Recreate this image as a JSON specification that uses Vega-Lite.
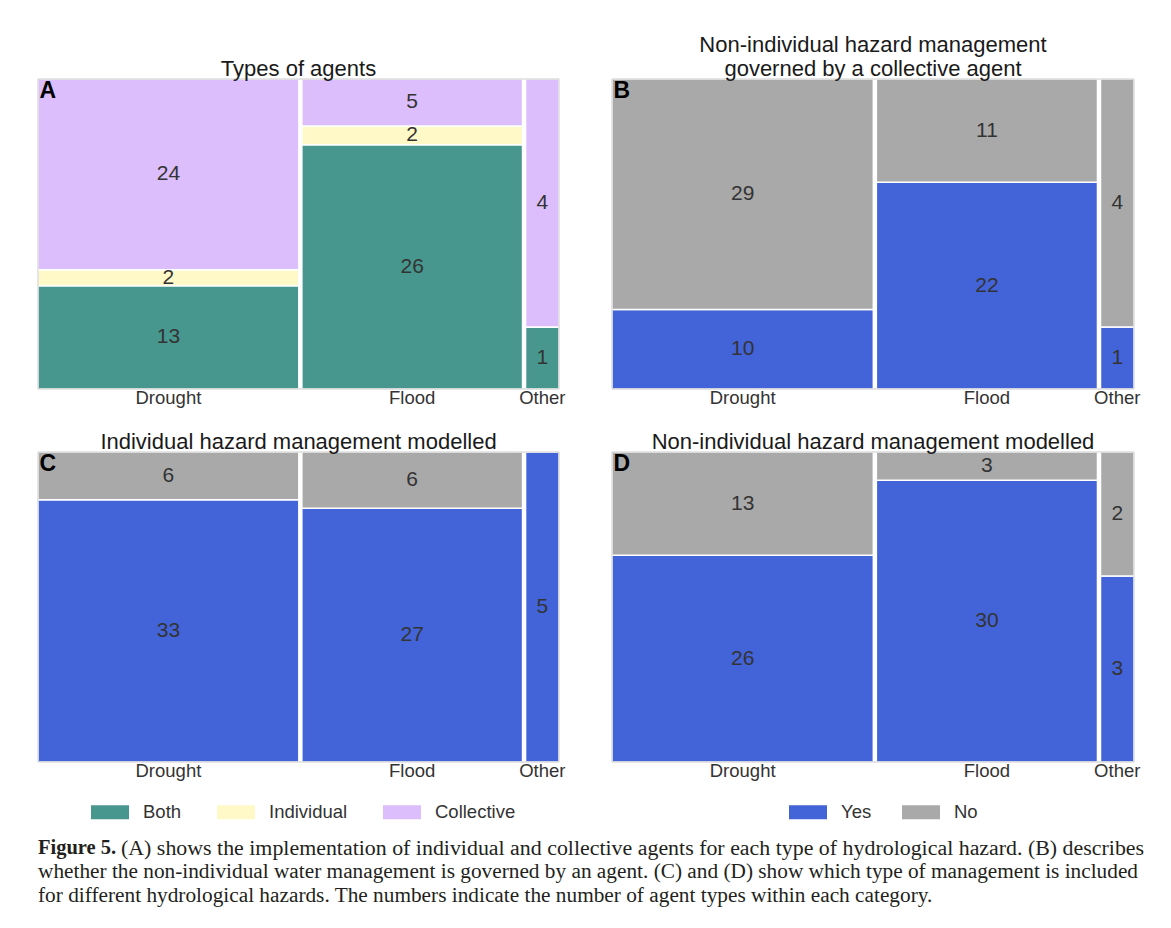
{
  "$schema": "https://vega.github.io/schema/vega-lite/v6.json",
  "background": "white",
  "padding": {"left": 37, "top": 34, "right": 8, "bottom": 8},
  "data": {"values": [
    {"panel": "A", "hazard": "Drought", "cat": "Both", "n": 13},
    {"panel": "A", "hazard": "Drought", "cat": "Individual", "n": 2},
    {"panel": "A", "hazard": "Drought", "cat": "Collective", "n": 24},
    {"panel": "A", "hazard": "Flood", "cat": "Both", "n": 26},
    {"panel": "A", "hazard": "Flood", "cat": "Individual", "n": 2},
    {"panel": "A", "hazard": "Flood", "cat": "Collective", "n": 5},
    {"panel": "A", "hazard": "Other", "cat": "Both", "n": 1},
    {"panel": "A", "hazard": "Other", "cat": "Individual", "n": 0},
    {"panel": "A", "hazard": "Other", "cat": "Collective", "n": 4},
    {"panel": "B", "hazard": "Drought", "cat": "Yes", "n": 10},
    {"panel": "B", "hazard": "Drought", "cat": "No", "n": 29},
    {"panel": "B", "hazard": "Flood", "cat": "Yes", "n": 22},
    {"panel": "B", "hazard": "Flood", "cat": "No", "n": 11},
    {"panel": "B", "hazard": "Other", "cat": "Yes", "n": 1},
    {"panel": "B", "hazard": "Other", "cat": "No", "n": 4},
    {"panel": "C", "hazard": "Drought", "cat": "Yes", "n": 33},
    {"panel": "C", "hazard": "Drought", "cat": "No", "n": 6},
    {"panel": "C", "hazard": "Flood", "cat": "Yes", "n": 27},
    {"panel": "C", "hazard": "Flood", "cat": "No", "n": 6},
    {"panel": "C", "hazard": "Other", "cat": "Yes", "n": 5},
    {"panel": "C", "hazard": "Other", "cat": "No", "n": 0},
    {"panel": "D", "hazard": "Drought", "cat": "Yes", "n": 26},
    {"panel": "D", "hazard": "Drought", "cat": "No", "n": 13},
    {"panel": "D", "hazard": "Flood", "cat": "Yes", "n": 30},
    {"panel": "D", "hazard": "Flood", "cat": "No", "n": 3},
    {"panel": "D", "hazard": "Other", "cat": "Yes", "n": 3},
    {"panel": "D", "hazard": "Other", "cat": "No", "n": 2}
  ]},
  "resolve": {"scale": {"color": "shared"}, "legend": {"color": "independent"}},
  "spacing": 23,
  "vconcat": [
    {
      "hconcat": [
        {
          "title": {"text": "Types of agents"},
          "width": 521, "height": 310,
          "transform": [
            {"filter": "datum.panel == 'A'"},
            {"calculate": "indexof(['Both','Individual','Collective','Yes','No'], datum.cat)", "as": "ord"},
            {"joinaggregate": [{"op": "sum", "field": "n", "as": "hz"}], "groupby": ["hazard"]},
            {"window": [{"op": "sum", "field": "n", "as": "cum"}, {"op": "dense_rank", "as": "hzi"}], "sort": [{"field": "hazard", "order": "ascending"}], "frame": [null, 0], "ignorePeers": false},
            {"calculate": "datum.cum - datum.hz + (datum.hzi - 1) * 0.45", "as": "x0"},
            {"calculate": "datum.cum + (datum.hzi - 1) * 0.45", "as": "x1"},
            {"stack": "n", "groupby": ["hazard"], "sort": [{"field": "ord", "order": "ascending"}], "offset": "normalize", "as": ["y0", "y1"]},
            {"calculate": "(datum.x0 + datum.x1) / 2", "as": "xm"},
            {"calculate": "(datum.y0 + datum.y1) / 2", "as": "ym"}
          ],
          "layer": [
            {"mark": {"type": "rect", "stroke": "white", "strokeWidth": 1.5},
             "encoding": {
               "x": {"field": "x0", "type": "quantitative", "scale": {"domain": [0, 77.9], "nice": false, "zero": false}, "axis": null},
               "x2": {"field": "x1"},
               "y": {"field": "y0", "type": "quantitative", "scale": {"domain": [0, 1], "nice": false}, "axis": null},
               "y2": {"field": "y1"},
               "color": {"field": "cat", "type": "nominal", "scale": {"domain": ["Both", "Individual", "Collective", "Yes", "No"], "range": ["#48978F", "#FFF9C8", "#DBBEFB", "#4363D8", "#A9A9A9"]}, "legend": null}
             }},
            {"transform": [{"filter": "datum.n > 0"}],
             "mark": {"type": "text", "fontSize": 21, "font": "Liberation Sans", "color": "#333333"},
             "encoding": {"x": {"field": "xm", "type": "quantitative"}, "y": {"field": "ym", "type": "quantitative"}, "text": {"field": "n", "type": "quantitative"}}},
            {"transform": [{"filter": "datum.ord == 0 || datum.ord == 3"}],
             "mark": {"type": "text", "fontSize": 18.5, "font": "Liberation Sans", "color": "#333333", "baseline": "top", "dy": 0},
             "encoding": {"x": {"field": "xm", "type": "quantitative"}, "y": {"datum": 0}, "text": {"field": "hazard"}}},
            {"transform": [{"filter": "datum.hzi == 1 && (datum.ord == 0 || datum.ord == 3)"}],
             "mark": {"type": "rect", "fillOpacity": 0, "fill": "white", "stroke": "#cccccc", "strokeWidth": 1},
             "encoding": {"x": {"datum": 0}, "x2": {"datum": 77.9}, "y": {"datum": 0}, "y2": {"datum": 1}}},
            {"transform": [{"filter": "datum.hzi == 1 && (datum.ord == 0 || datum.ord == 3)"}],
             "mark": {"type": "text", "text": "A", "fontWeight": "bold", "fontSize": 23, "font": "Liberation Sans", "color": "black", "align": "left", "baseline": "top", "dx": 1.5, "dy": 1},
             "encoding": {"x": {"datum": 0}, "y": {"datum": 1}}}
          ]
        },
        {
          "title": {"text": ["Non-individual hazard management", " governed by a collective agent"]},
          "width": 522, "height": 310,
          "transform": [
            {"filter": "datum.panel == 'B'"},
            {"calculate": "indexof(['Both','Individual','Collective','Yes','No'], datum.cat)", "as": "ord"},
            {"joinaggregate": [{"op": "sum", "field": "n", "as": "hz"}], "groupby": ["hazard"]},
            {"window": [{"op": "sum", "field": "n", "as": "cum"}, {"op": "dense_rank", "as": "hzi"}], "sort": [{"field": "hazard", "order": "ascending"}], "frame": [null, 0], "ignorePeers": false},
            {"calculate": "datum.cum - datum.hz + (datum.hzi - 1) * 0.45", "as": "x0"},
            {"calculate": "datum.cum + (datum.hzi - 1) * 0.45", "as": "x1"},
            {"stack": "n", "groupby": ["hazard"], "sort": [{"field": "ord", "order": "ascending"}], "offset": "normalize", "as": ["y0", "y1"]},
            {"calculate": "(datum.x0 + datum.x1) / 2", "as": "xm"},
            {"calculate": "(datum.y0 + datum.y1) / 2", "as": "ym"}
          ],
          "layer": [
            {"mark": {"type": "rect", "stroke": "white", "strokeWidth": 1.5},
             "encoding": {
               "x": {"field": "x0", "type": "quantitative", "scale": {"domain": [0, 77.9], "nice": false, "zero": false}, "axis": null},
               "x2": {"field": "x1"},
               "y": {"field": "y0", "type": "quantitative", "scale": {"domain": [0, 1], "nice": false}, "axis": null},
               "y2": {"field": "y1"},
               "color": {"field": "cat", "type": "nominal", "legend": null}
             }},
            {"transform": [{"filter": "datum.n > 0"}],
             "mark": {"type": "text", "fontSize": 21, "font": "Liberation Sans", "color": "#333333"},
             "encoding": {"x": {"field": "xm", "type": "quantitative"}, "y": {"field": "ym", "type": "quantitative"}, "text": {"field": "n", "type": "quantitative"}}},
            {"transform": [{"filter": "datum.ord == 0 || datum.ord == 3"}],
             "mark": {"type": "text", "fontSize": 18.5, "font": "Liberation Sans", "color": "#333333", "baseline": "top", "dy": 0},
             "encoding": {"x": {"field": "xm", "type": "quantitative"}, "y": {"datum": 0}, "text": {"field": "hazard"}}},
            {"transform": [{"filter": "datum.hzi == 1 && (datum.ord == 0 || datum.ord == 3)"}],
             "mark": {"type": "rect", "fillOpacity": 0, "fill": "white", "stroke": "#cccccc", "strokeWidth": 1},
             "encoding": {"x": {"datum": 0}, "x2": {"datum": 77.9}, "y": {"datum": 0}, "y2": {"datum": 1}}},
            {"transform": [{"filter": "datum.hzi == 1 && (datum.ord == 0 || datum.ord == 3)"}],
             "mark": {"type": "text", "text": "B", "fontWeight": "bold", "fontSize": 23, "font": "Liberation Sans", "color": "black", "align": "left", "baseline": "top", "dx": 1.5, "dy": 1},
             "encoding": {"x": {"datum": 0}, "y": {"datum": 1}}}
          ]
        }
      ],
      "spacing": 45,
      "resolve": {"scale": {"color": "shared"}, "legend": {"color": "independent"}}
    },
    {
      "vconcat": [
        {
          "hconcat": [
            {
              "title": {"text": "Individual hazard management modelled"},
              "width": 521, "height": 310,
              "transform": [
                {"filter": "datum.panel == 'C'"},
                {"calculate": "indexof(['Both','Individual','Collective','Yes','No'], datum.cat)", "as": "ord"},
                {"joinaggregate": [{"op": "sum", "field": "n", "as": "hz"}], "groupby": ["hazard"]},
                {"window": [{"op": "sum", "field": "n", "as": "cum"}, {"op": "dense_rank", "as": "hzi"}], "sort": [{"field": "hazard", "order": "ascending"}], "frame": [null, 0], "ignorePeers": false},
                {"calculate": "datum.cum - datum.hz + (datum.hzi - 1) * 0.45", "as": "x0"},
                {"calculate": "datum.cum + (datum.hzi - 1) * 0.45", "as": "x1"},
                {"stack": "n", "groupby": ["hazard"], "sort": [{"field": "ord", "order": "ascending"}], "offset": "normalize", "as": ["y0", "y1"]},
                {"calculate": "(datum.x0 + datum.x1) / 2", "as": "xm"},
                {"calculate": "(datum.y0 + datum.y1) / 2", "as": "ym"}
              ],
              "layer": [
                {"mark": {"type": "rect", "stroke": "white", "strokeWidth": 1.5},
                 "encoding": {
                   "x": {"field": "x0", "type": "quantitative", "scale": {"domain": [0, 77.9], "nice": false, "zero": false}, "axis": null},
                   "x2": {"field": "x1"},
                   "y": {"field": "y0", "type": "quantitative", "scale": {"domain": [0, 1], "nice": false}, "axis": null},
                   "y2": {"field": "y1"},
                   "color": {"field": "cat", "type": "nominal", "legend": {"values": ["Both", "Individual", "Collective"], "orient": "bottom", "direction": "horizontal", "title": " ", "titleOrient": "left", "titlePadding": 10, "titleFontSize": 4, "symbolType": "M-1,-0.37L1,-0.37L1,0.37L-1,0.37Z", "symbolSize": 1444, "symbolStrokeWidth": 0, "symbolOpacity": 1, "labelFontSize": 18.5, "labelFont": "Liberation Sans", "labelColor": "#333333", "labelOffset": 14, "columnPadding": 35, "offset": 31}}
                 }},
                {"transform": [{"filter": "datum.n > 0"}],
                 "mark": {"type": "text", "fontSize": 21, "font": "Liberation Sans", "color": "#333333"},
                 "encoding": {"x": {"field": "xm", "type": "quantitative"}, "y": {"field": "ym", "type": "quantitative"}, "text": {"field": "n", "type": "quantitative"}}},
                {"transform": [{"filter": "datum.ord == 0 || datum.ord == 3"}],
                 "mark": {"type": "text", "fontSize": 18.5, "font": "Liberation Sans", "color": "#333333", "baseline": "top", "dy": 0},
                 "encoding": {"x": {"field": "xm", "type": "quantitative"}, "y": {"datum": 0}, "text": {"field": "hazard"}}},
                {"transform": [{"filter": "datum.hzi == 1 && (datum.ord == 0 || datum.ord == 3)"}],
                 "mark": {"type": "rect", "fillOpacity": 0, "fill": "white", "stroke": "#cccccc", "strokeWidth": 1},
                 "encoding": {"x": {"datum": 0}, "x2": {"datum": 77.9}, "y": {"datum": 0}, "y2": {"datum": 1}}},
                {"transform": [{"filter": "datum.hzi == 1 && (datum.ord == 0 || datum.ord == 3)"}],
                 "mark": {"type": "text", "text": "C", "fontWeight": "bold", "fontSize": 23, "font": "Liberation Sans", "color": "black", "align": "left", "baseline": "top", "dx": 1.5, "dy": 1},
                 "encoding": {"x": {"datum": 0}, "y": {"datum": 1}}}
              ]
            },
            {
              "title": {"text": "Non-individual hazard management modelled"},
              "width": 522, "height": 310,
              "transform": [
                {"filter": "datum.panel == 'D'"},
                {"calculate": "indexof(['Both','Individual','Collective','Yes','No'], datum.cat)", "as": "ord"},
                {"joinaggregate": [{"op": "sum", "field": "n", "as": "hz"}], "groupby": ["hazard"]},
                {"window": [{"op": "sum", "field": "n", "as": "cum"}, {"op": "dense_rank", "as": "hzi"}], "sort": [{"field": "hazard", "order": "ascending"}], "frame": [null, 0], "ignorePeers": false},
                {"calculate": "datum.cum - datum.hz + (datum.hzi - 1) * 0.45", "as": "x0"},
                {"calculate": "datum.cum + (datum.hzi - 1) * 0.45", "as": "x1"},
                {"stack": "n", "groupby": ["hazard"], "sort": [{"field": "ord", "order": "ascending"}], "offset": "normalize", "as": ["y0", "y1"]},
                {"calculate": "(datum.x0 + datum.x1) / 2", "as": "xm"},
                {"calculate": "(datum.y0 + datum.y1) / 2", "as": "ym"}
              ],
              "layer": [
                {"mark": {"type": "rect", "stroke": "white", "strokeWidth": 1.5},
                 "encoding": {
                   "x": {"field": "x0", "type": "quantitative", "scale": {"domain": [0, 77.9], "nice": false, "zero": false}, "axis": null},
                   "x2": {"field": "x1"},
                   "y": {"field": "y0", "type": "quantitative", "scale": {"domain": [0, 1], "nice": false}, "axis": null},
                   "y2": {"field": "y1"},
                   "color": {"field": "cat", "type": "nominal", "legend": {"values": ["Yes", "No"], "orient": "bottom", "direction": "horizontal", "title": " ", "titleOrient": "left", "titlePadding": 20, "titleFontSize": 4, "symbolType": "M-1,-0.37L1,-0.37L1,0.37L-1,0.37Z", "symbolSize": 1444, "symbolStrokeWidth": 0, "symbolOpacity": 1, "labelFontSize": 18.5, "labelFont": "Liberation Sans", "labelColor": "#333333", "labelOffset": 14, "columnPadding": 30, "offset": 31}}
                 }},
                {"transform": [{"filter": "datum.n > 0"}],
                 "mark": {"type": "text", "fontSize": 21, "font": "Liberation Sans", "color": "#333333"},
                 "encoding": {"x": {"field": "xm", "type": "quantitative"}, "y": {"field": "ym", "type": "quantitative"}, "text": {"field": "n", "type": "quantitative"}}},
                {"transform": [{"filter": "datum.ord == 0 || datum.ord == 3"}],
                 "mark": {"type": "text", "fontSize": 18.5, "font": "Liberation Sans", "color": "#333333", "baseline": "top", "dy": 0},
                 "encoding": {"x": {"field": "xm", "type": "quantitative"}, "y": {"datum": 0}, "text": {"field": "hazard"}}},
                {"transform": [{"filter": "datum.hzi == 1 && (datum.ord == 0 || datum.ord == 3)"}],
                 "mark": {"type": "rect", "fillOpacity": 0, "fill": "white", "stroke": "#cccccc", "strokeWidth": 1},
                 "encoding": {"x": {"datum": 0}, "x2": {"datum": 77.9}, "y": {"datum": 0}, "y2": {"datum": 1}}},
                {"transform": [{"filter": "datum.hzi == 1 && (datum.ord == 0 || datum.ord == 3)"}],
                 "mark": {"type": "text", "text": "D", "fontWeight": "bold", "fontSize": 23, "font": "Liberation Sans", "color": "black", "align": "left", "baseline": "top", "dx": 1.5, "dy": 1},
                 "encoding": {"x": {"datum": 0}, "y": {"datum": 1}}}
              ]
            }
          ],
          "spacing": 45,
          "resolve": {"scale": {"color": "shared"}, "legend": {"color": "independent"}}
        },
        {
          "width": 1110, "height": 56,
          "view": {"stroke": null},
          "data": {"values": [
            {"line": 1, "part": "bold", "text": "Figure 5."},
            {"line": 1, "part": "rest", "text": "(A) shows the implementation of individual and collective agents for each type of hydrological hazard. (B) describes"},
            {"line": 2, "part": "rest", "text": "whether the non-individual water management is governed by an agent. (C) and (D) show which type of management is included"},
            {"line": 3, "part": "rest", "text": "for different hydrological hazards. The numbers indicate the number of agent types within each category."}
          ]},
          "encoding": {
            "x": {"datum": 0, "type": "quantitative", "scale": {"domain": [0, 1]}, "axis": null},
            "y": {"field": "line", "type": "ordinal", "scale": {"domain": [1, 2, 3], "padding": 0.17}, "axis": null},
            "text": {"field": "text"}
          },
          "layer": [
            {"transform": [{"filter": "datum.part == 'bold'"}],
             "mark": {"type": "text", "align": "left", "baseline": "middle", "font": "Liberation Serif", "fontSize": 20.5, "fontWeight": "bold", "color": "#231f20"}},
            {"transform": [{"filter": "datum.part == 'rest' && datum.line == 1"}],
             "mark": {"type": "text", "align": "left", "baseline": "middle", "font": "Liberation Serif", "fontSize": 21.9, "color": "#231f20", "dx": 83}},
            {"transform": [{"filter": "datum.part == 'rest' && datum.line > 1"}],
             "mark": {"type": "text", "align": "left", "baseline": "middle", "font": "Liberation Serif", "fontSize": 21.3, "color": "#231f20"}}
          ]
        }
      ],
      "spacing": 15,
      "resolve": {"scale": {"color": "shared"}, "legend": {"color": "independent"}}
    }
  ],
  "config": {
    "view": {"stroke": null},
    "title": {"fontSize": 22, "font": "Liberation Sans", "fontWeight": "normal", "color": "#1a1a1a", "offset": -3, "lineHeight": 24},
    "legend": {"layout": {"bottom": {"anchor": "middle"}}}
  }
}
